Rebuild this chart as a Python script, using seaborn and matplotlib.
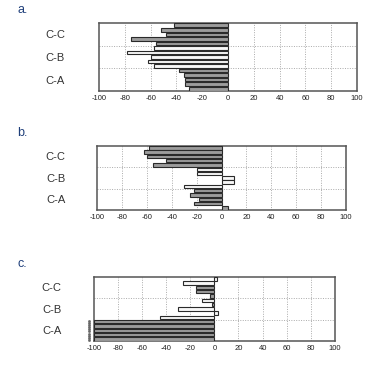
import matplotlib
matplotlib.use("Agg")
import matplotlib.pyplot as plt
import seaborn as sns
import pandas as pd
import numpy as np

sns.set_style("white")
plt.rcParams['font.family'] = ['Liberation Sans', 'DejaVu Sans']

groups = ["C-C", "C-B", "C-A"]
xticks = [-100, -80, -60, -40, -20, 0, 20, 40, 60, 80, 100]

# panel a (bars listed top to bottom within each group)
a_cc = [-42, -52, -48, -75, -56]
a_cb = [-57, -78, -60, -62, -57]
a_ca = [-38, -34, -33, -33, -30]
# panel b
b_cc = [-58, -62, -60, -45, -55]
b_cb = [-20, -20, 10, 10, -30]
b_ca = [-22, -25, -18, -22, 5]
# panel c
c_cc = [2, -26, -15, -15, -4]
c_cb = [-10, -2, -30, 3, -45]
c_ca = [-100, -100, -100, -100, -100]

G, W = "#9c9c9c", "#f7f7f7"
a_fill = [G]*5 + [W]*5 + [G]*5
b_fill = [G]*5 + [W]*5 + [G]*5
c_fill = [W, W, G, G, G] + [W, G, W, W, W] + [G]*5

panels = [
    ("a.", [a_cc, a_cb, a_ca], a_fill, [99, 357, 23, 91], 34),
    ("b.", [b_cc, b_cb, b_ca], b_fill, [97.3, 345.7, 145.7, 210], 32),
    ("c.", [c_cc, c_cb, c_ca], c_fill, [93.7, 335, 276.7, 341], 32),
]

FW, FH = 375, 369
fig = plt.figure(figsize=(FW/100, FH/100), dpi=100)

for label, series, fills, (l, r, t, b), pad in panels:
    ax = fig.add_axes([l/FW, (FH-b)/FH, (r-l)/FW, (b-t)/FH])
    vals, grp, idx = [], [], []
    k = 0
    for g, s in zip(groups, series):
        for v in s:
            vals.append(v); grp.append(g); idx.append(f"{g}_{k}"); k += 1
    df = pd.DataFrame({"value": vals, "bar": idx, "group": grp})
    sns.barplot(data=df, x="value", y="bar", hue="bar", palette=fills,
                orient="h", legend=False, width=0.78, edgecolor="#2a2a2a",
                linewidth=0.8, ax=ax, zorder=3)
    ax.set_xlim(-100, 100)
    ax.set_ylim(len(vals)-0.5, -0.5)
    ax.set_xticks(xticks)
    ax.set_xticklabels([str(x) for x in xticks], fontsize=5.5, color="#222222")
    n = len(series[0])
    ax.set_yticks([n*i + (n-1)/2 for i in range(3)])
    ax.set_yticklabels(groups, fontsize=8, color="#333333")
    ax.tick_params(axis="y", length=0, pad=pad*0.72)
    ax.tick_params(axis="x", length=0, pad=3)
    ax.set_xlabel(""); ax.set_ylabel("")
    for x in xticks[1:-1]:
        ax.axvline(x, color="#aaaaaa", ls=(0, (1, 1.5)), lw=0.7, zorder=1)
    for i in range(1, 3):
        ax.axhline(n*i - 0.5, color="#aaaaaa", ls=(0, (1, 1.5)), lw=0.7, zorder=1)
    for sp in ax.spines.values():
        sp.set_color("#555555"); sp.set_linewidth(1.1); sp.set_visible(True)
    fig.text(17/FW, 1 - (t - 13)/FH, label, fontsize=9, color="#1f3f7a",
             ha="left", va="center")
    if label == "c.":
        ys = np.arange(10, 15)
        ax.plot(np.full(len(ys), -104), ys - 0.2, ls="none", marker="s",
                ms=0.9, color="#666666", clip_on=False)
        ax.plot(np.full(len(ys), -104), ys + 0.25, ls="none", marker="s",
                ms=0.9, color="#666666", clip_on=False)

fig.savefig("out.png", dpi=100)
